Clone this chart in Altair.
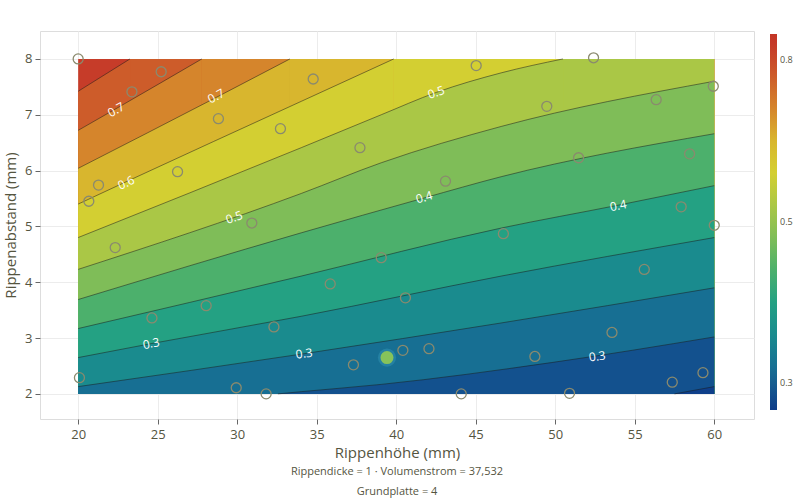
import altair as alt
import pandas as pd

# ---------------- data ----------------
# contour lines (x = Rippenhöhe, y = Rippenabstand), top-left to bottom-right
c1_x = [20.0, 23.26]
c1_y = [7.42, 8.0]
c2_x = [20.0, 22.39, 27.78]
c2_y = [6.72, 7.11, 8.0]
c3_x = [20.0, 28.68, 33.32]
c3_y = [6.04, 7.31, 8.0]
c4_x = [20.0, 23.02, 34.03, 39.85]
c4_y = [5.40, 5.80, 7.24, 8.0]
c5_x = [20.0, 34.03, 39.06, 42.52, 46.60, 50.49]
c5_y = [4.80, 6.41, 7.00, 7.40, 7.75, 8.0]
c6_x = [20.0, 34.03, 39.06, 46.60, 60.0]
c6_y = [4.23, 5.59, 6.14, 6.79, 7.60]
c7_x = [20.0, 34.03, 41.76, 46.60, 60.0]
c7_y = [3.69, 4.885, 5.51, 5.89, 6.66]
c8_x = [20.0, 34.03, 46.60, 53.96, 60.0]
c8_y = [3.17, 4.11, 4.97, 5.38, 5.73]
c9_x = [20.0, 24.59, 34.03, 46.60, 60.0]
c9_y = [2.65, 2.90, 3.39, 4.11, 4.80]
c10_x = [20.0, 34.21, 46.60, 60.0]
c10_y = [2.13, 2.72, 3.27, 3.90]
c11_x = [32.56, 34.03, 39.06, 49.75, 60.0]
c11_y = [2.0, 2.04, 2.17, 2.56, 3.02]
c12_x = [57.50, 60.0]
c12_y = [2.0, 2.13]

# level of each contour on the colour bar (log10 scale of the value)
levels = [-0.10, -0.14, -0.18, -0.22, -0.26, -0.30, -0.34, -0.38, -0.42, -0.46, -0.50, -0.525]
z_top, z_bottom = -0.068, -0.533

# contour labels
lab_x = [22.39, 28.68, 23.02, 29.81, 42.52, 41.76, 53.96, 24.59, 34.21, 52.64]
lab_y = [7.09, 7.33, 5.78, 5.16, 7.40, 5.52, 5.37, 2.90, 2.72, 2.67]
lab_text = ["0.7", "0.7", "0.6", "0.5", "0.5", "0.4", "0.4", "0.3", "0.3", "0.3"]
lab_angle = [330, 332, 335, 341, 341, 344, 349, 349, 352, 352]

# sampled design points
pt_x = [20.0, 25.22, 23.38, 28.82, 34.78, 45.03, 52.41, 49.47, 56.35, 59.94,
        32.72, 37.72, 21.28, 20.67, 26.25, 30.92, 43.10, 51.47, 58.45, 57.92,
        60.0, 46.74, 22.33, 35.85, 39.06, 40.58, 28.05, 24.64, 32.31, 55.60,
        53.57, 48.72, 42.06, 40.42, 37.31, 29.94, 31.82, 44.09, 50.90, 57.36,
        59.29, 20.08]
pt_y = [8.0, 7.77, 7.41, 6.93, 7.64, 7.88, 8.02, 7.15, 7.27, 7.51,
        6.75, 6.41, 5.74, 5.45, 5.98, 5.06, 5.81, 6.23, 6.30, 5.35,
        5.02, 4.87, 4.62, 3.97, 4.44, 3.72, 3.58, 3.36, 3.20, 4.23,
        3.10, 2.67, 2.81, 2.78, 2.52, 2.11, 2.0, 2.0, 2.01, 2.21,
        2.38, 2.29]
best_x = [39.42]
best_y = [2.65]

# colour bar (log10 value -> colour)
cb_stops = [-0.533, -0.529, -0.5125, -0.48, -0.44, -0.40, -0.36, -0.32, -0.28, -0.24,
            -0.20, -0.16, -0.12, -0.084, -0.068]
cb_colors = ["#0e3c89", "#0f3f8a", "#13518e", "#176f93", "#1a8b8e", "#24a183", "#4cb06c",
             "#7fbd58", "#aac746", "#d3cf32", "#d8b62e", "#d5852c", "#cd5c2a", "#c63c29",
             "#c33526"]

# ---------------- chart ----------------
XMIN, XMAX, YMIN, YMAX = 20.0, 60.0, 2.0, 8.0
lines_x = [c1_x, c2_x, c3_x, c4_x, c5_x, c6_x, c7_x, c8_x, c9_x, c10_x, c11_x, c12_x]
lines_y = [c1_y, c2_y, c3_y, c4_y, c5_y, c6_y, c7_y, c8_y, c9_y, c10_y, c11_y, c12_y]

FONT = "Open Sans"
TXT = "#55553f"

xscale = alt.Scale(domain=[17.6, 62.5], nice=False, zero=False)
yscale = alt.Scale(domain=[1.55, 8.5], nice=False, zero=False)
cscale = alt.Scale(domain=cb_stops, range=cb_colors, interpolate="rgb")

legend = alt.Legend(
    orient="none", legendX=730, legendY=3, direction="vertical", title=None,
    gradientLength=376, gradientThickness=7, gradientStrokeWidth=0,
    values=[-0.5, -0.3, -0.1], labelExpr="format(pow(10, datum.value), '.1f')",
    labelFontSize=9, labelColor=TXT, labelFont=FONT, labelOffset=3,
)


def color_enc():
    return alt.Color("z:Q", scale=cscale, legend=legend)


xaxis = alt.Axis(values=list(range(20, 61, 5)), title="Rippenhöhe (mm)", grid=True,
                 gridColor="#ececec", domain=False, ticks=True, tickColor="#666666",
                 tickSize=5, labelFontSize=13, titleFontSize=15, labelColor=TXT,
                 titleColor=TXT, labelFont=FONT, titleFont=FONT, titleFontWeight="normal",
                 labelPadding=4, titlePadding=4, format="d")
yaxis = alt.Axis(values=list(range(2, 9)), title="Rippenabstand (mm)", grid=True,
                 gridColor="#ececec", domain=False, ticks=True, tickColor="#666666",
                 tickSize=5, labelFontSize=13, titleFontSize=15, labelColor=TXT,
                 titleColor=TXT, labelFont=FONT, titleFont=FONT, titleFontWeight="normal",
                 labelPadding=3, titlePadding=6, format="d")

layers = []

# background field (value above the first contour)
bg = pd.DataFrame({"x": [XMIN], "x2": [XMAX], "y": [YMIN], "y2": [YMAX],
                   "z": [(z_top + levels[0]) / 2]})
layers.append(
    alt.Chart(bg).mark_rect(opacity=1).encode(
        x=alt.X("x:Q", scale=xscale, axis=xaxis), x2="x2:Q",
        y=alt.Y("y:Q", scale=yscale, axis=yaxis), y2="y2:Q",
        color=color_enc(),
    )
)

# region below each contour, painted in order
for k, (lx, ly) in enumerate(zip(lines_x, lines_y)):
    nxt = levels[k + 1] if k + 1 < len(levels) else z_bottom
    zval = (levels[k] + nxt) / 2
    df = pd.DataFrame({"x": lx, "y": ly, "y0": [YMIN] * len(lx), "z": [zval] * len(lx)})
    layers.append(
        alt.Chart(df).mark_area(opacity=1, interpolate="monotone").encode(
            x=alt.X("x:Q", scale=xscale), y=alt.Y("y:Q", scale=yscale), y2="y0:Q",
            color=color_enc(),
        )
    )
    if ly[-1] >= YMAX and lx[-1] < XMAX:
        rdf = pd.DataFrame({"x": [lx[-1]], "x2": [XMAX], "y": [YMIN], "y2": [YMAX], "z": [zval]})
        layers.append(
            alt.Chart(rdf).mark_rect(opacity=1).encode(
                x=alt.X("x:Q", scale=xscale), x2="x2:Q",
                y=alt.Y("y:Q", scale=yscale), y2="y2:Q",
                color=color_enc(),
            )
        )

# contour lines
rows = []
for k, (lx, ly) in enumerate(zip(lines_x, lines_y)):
    for a, b in zip(lx, ly):
        rows.append({"x": a, "y": b, "lev": k})
ldf = pd.DataFrame(rows)
layers.append(
    alt.Chart(ldf).mark_line(interpolate="monotone", color="#1a1a1a", opacity=0.5,
                             strokeWidth=1).encode(
        x=alt.X("x:Q", scale=xscale), y=alt.Y("y:Q", scale=yscale), detail="lev:N",
    )
)

# contour labels
tdf = pd.DataFrame({"x": lab_x, "y": lab_y, "t": lab_text, "a": lab_angle})
layers.append(
    alt.Chart(tdf).mark_text(color="white", fontSize=12, font=FONT).encode(
        x=alt.X("x:Q", scale=xscale), y=alt.Y("y:Q", scale=yscale), text="t:N",
        angle=alt.Angle("a:Q", scale=None),
    )
)

# design points
pdf = pd.DataFrame({"x": pt_x, "y": pt_y})
layers.append(
    alt.Chart(pdf).mark_point(shape="circle", filled=False, size=100, color="#8a8a6e",
                              strokeWidth=1.3, opacity=1).encode(
        x=alt.X("x:Q", scale=xscale), y=alt.Y("y:Q", scale=yscale),
    )
)

# optimum point
bdf = pd.DataFrame({"x": best_x, "y": best_y})
layers.append(
    alt.Chart(bdf).mark_point(shape="circle", filled=True, size=330, color="#2f8fb0",
                              opacity=0.55).encode(
        x=alt.X("x:Q", scale=xscale), y=alt.Y("y:Q", scale=yscale),
    )
)
layers.append(
    alt.Chart(bdf).mark_point(shape="circle", filled=True, size=170, color="#86c35a",
                              opacity=1).encode(
        x=alt.X("x:Q", scale=xscale), y=alt.Y("y:Q", scale=yscale),
    )
)

chart = alt.layer(*layers).properties(
    width=714, height=388,
    padding={"left": 40, "top": 31, "right": 46, "bottom": 82},
    autosize=alt.AutoSizeParams(type="none"),
    title=alt.TitleParams(
        text=["Rippendicke = 1 · Volumenstrom = 37,532", "Grundplatte = 4"],
        orient="bottom", anchor="middle", fontSize=11, font=FONT, color=TXT,
        fontWeight="normal", lineHeight=20, offset=6,
    ),
).configure_view(stroke=None).configure(background="white")

chart.save("out.html", embed_options={"renderer": "svg", "actions": False})
